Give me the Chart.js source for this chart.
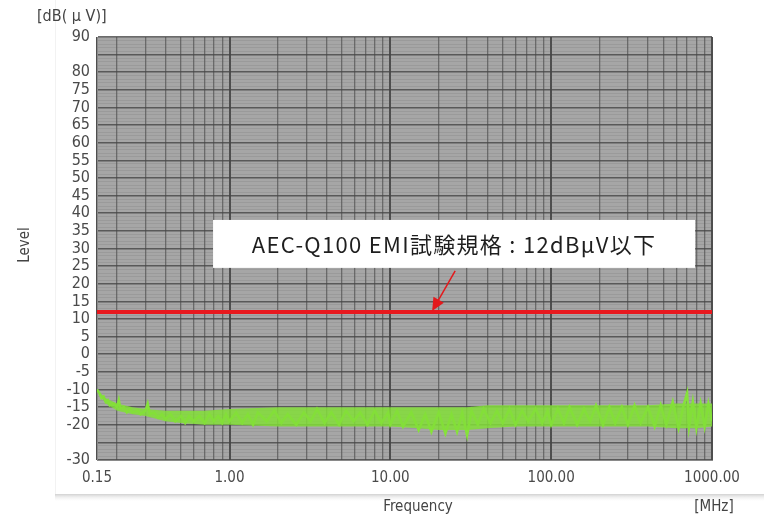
<!DOCTYPE html>
<html>
<head>
<meta charset="utf-8">
<script src="https://cdn.jsdelivr.net/npm/chart.js@4/dist/chart.umd.min.js"></script>
<style>
  html, body { margin: 0; padding: 0; background: #fff; }
  #wrap { width: 764px; height: 515px; position: relative; }
</style>
</head>
<body>
<div id="wrap"><canvas id="emi"></canvas></div>
<script>
const noiseFreq = [
  0.15, 0.155, 0.16, 0.165, 0.17, 0.175, 0.18, 0.19, 0.2, 0.205,
  0.21, 0.22, 0.23, 0.24, 0.25, 0.27, 0.28, 0.3, 0.31, 0.32,
  0.34, 0.36, 0.38, 0.4, 0.43, 0.46, 0.5, 0.53, 0.56, 0.6,
  0.65, 0.7, 0.75, 0.8, 0.85, 0.9, 0.95, 1.0, 1.1, 1.2,
  1.3, 1.4, 1.5, 1.7, 1.9, 2.1, 2.3, 2.6, 2.9, 3.2,
  3.5, 3.9, 4.3, 4.8, 5.3, 5.9, 6.5, 7.2, 8, 8.8,
  9.7, 10, 11, 12, 13.5, 15, 16.5, 18, 20, 22,
  24, 26, 28, 30, 32, 35, 38, 42, 46, 50,
  55, 60, 66, 72, 80, 88, 95, 100, 110, 120,
  130, 145, 160, 175, 190, 210, 230, 250, 275, 300,
  330, 360, 400, 440, 480, 520, 570, 620, 670, 700,
  720, 760, 800, 850, 900, 950, 1000
];
const noiseLevel = [
  -10, -11, -12.5, -12, -13.5, -13, -14.5, -14, -15, -13,
  -15.5, -15, -16.5, -15.5, -16.5, -16, -17, -16, -14, -17,
  -16.5, -18, -17, -18.5, -17, -19, -17.5, -19.5, -17.5, -19,
  -17.5, -19.5, -17, -19, -17.5, -19.5, -17, -19, -16.5, -19.5,
  -17, -20, -16.5, -19, -16, -19.5, -17, -20, -16.5, -19,
  -15.5, -19.5, -16.5, -20, -16, -19, -16.5, -20, -16, -19.5,
  -16.5, -20, -16, -20.5, -16.5, -21.5, -17, -22, -16.5, -22.5,
  -17, -22, -16.5, -23, -16, -20, -15.5, -19.5, -16, -19.5,
  -15.5, -20, -16, -19, -15.5, -19.5, -16, -20, -15.5, -19.5,
  -15, -20, -15.5, -19, -14.5, -20, -15, -19.5, -15, -20,
  -14.5, -19.5, -15, -20.5, -14.5, -20, -13.5, -21, -14, -11,
  -20.5, -13.5, -21, -14, -20.5, -14, -19
];

// outer edges of the green band
const bandFreq = [0.15, 0.17, 0.2, 0.25, 0.3, 0.4, 0.5, 0.7, 1, 2, 3, 5, 7, 10, 15, 20, 30, 40, 60, 100, 200, 400, 600, 800, 1000];
const bandUpper = [-10, -12.5, -14, -15, -15.5, -16, -16, -16, -15.5, -15, -15, -15, -15, -15, -15, -15, -15, -14.5, -14.5, -14.5, -14.5, -14.5, -14, -14, -14];
const bandLower = [-10.5, -14, -16, -17, -17.5, -19, -19.5, -20, -20, -20.5, -20.5, -20.5, -20.5, -20.5, -21, -21.5, -21.5, -21, -20.5, -20.5, -20.5, -20.5, -21, -21, -20.5];

// AEC-Q100 limit
const limitFreq = [0.15, 1000];
const limitLevel = [12, 12];

// axes
const xTickValues = [
  0.15, 0.2, 0.3, 0.4, 0.5, 0.6, 0.7, 0.8, 0.9,
  1, 2, 3, 4, 5, 6, 7, 8, 9,
  10, 20, 30, 40, 50, 60, 70, 80, 90,
  100, 200, 300, 400, 500, 600, 700, 800, 900, 1000
];
const xLabelValues = [0.15, 1, 10, 100, 1000];
const yMin = -30, yMax = 90;
const yHiddenLabels = [85, -25];

const annotationText = 'AEC-Q100 EMI試験規格 : 12dBµV以下';

const tickFont = "'Liberation Sans Narrow', 'DejaVu Sans Condensed', 'Liberation Sans', sans-serif";
const jpFont = "'Noto Sans CJK JP', 'Noto Sans', sans-serif";

const yTickValues = [];
for (let v = yMin; v <= yMax; v++) yTickValues.push(v);

const toPoints = (xs, ys) => xs.map((x, i) => ({ x: x, y: ys[i] }));

const decorPlugin = {
  id: 'decor',
  beforeDraw(chart) {
    const { ctx, chartArea: a } = chart;
    ctx.save();
    // faint photo frame
    ctx.fillStyle = '#f2f2f2';
    ctx.fillRect(55, 0, 1, 496);
    const g = ctx.createLinearGradient(0, 494, 0, 502);
    g.addColorStop(0, 'rgba(205,205,205,0.9)');
    g.addColorStop(1, 'rgba(255,255,255,0)');
    ctx.fillStyle = g;
    ctx.fillRect(55, 494, 709, 8);
    // plot background
    ctx.fillStyle = '#a6a6a6';
    ctx.fillRect(a.left, a.top, a.right - a.left, a.bottom - a.top);
    ctx.restore();
  },
  afterDatasetsDraw(chart) {
    const { ctx, scales } = chart;
    const xs = scales.x, ys = scales.y;
    ctx.save();
    // annotation box
    const bx1 = xs.getPixelForValue(0.79), bx2 = xs.getPixelForValue(785);
    const by1 = ys.getPixelForValue(38.1), by2 = ys.getPixelForValue(24.5);
    ctx.fillStyle = '#ffffff';
    ctx.fillRect(bx1, by1, bx2 - bx1, by2 - by1);
    ctx.fillStyle = '#1e1e1e';
    ctx.font = '22px ' + jpFont;
    ctx.letterSpacing = '1.3px';
    ctx.textAlign = 'center';
    ctx.textBaseline = 'middle';
    ctx.fillText(annotationText, (bx1 + bx2) / 2, (by1 + by2) / 2 + 1);
    ctx.letterSpacing = '0px';
    // arrow to the limit line
    const tx = xs.getPixelForValue(18.2), ty = ys.getPixelForValue(12) - 1;
    const sx = tx + 23, sy = by2 + 3;
    const ang = Math.atan2(ty - sy, tx - sx);
    ctx.strokeStyle = '#e3191c';
    ctx.fillStyle = '#e3191c';
    ctx.lineWidth = 1.5;
    ctx.beginPath();
    ctx.moveTo(sx, sy);
    ctx.lineTo(tx - 10 * Math.cos(ang), ty - 10 * Math.sin(ang));
    ctx.stroke();
    ctx.beginPath();
    ctx.moveTo(tx, ty);
    ctx.lineTo(tx - 13 * Math.cos(ang) + 6 * Math.sin(ang), ty - 13 * Math.sin(ang) - 6 * Math.cos(ang));
    ctx.lineTo(tx - 13 * Math.cos(ang) - 6 * Math.sin(ang), ty - 13 * Math.sin(ang) + 6 * Math.cos(ang));
    ctx.closePath();
    ctx.fill();
    ctx.restore();
  },
  afterDraw(chart) {
    const { ctx } = chart;
    ctx.save();
    ctx.fillStyle = '#444';
    ctx.textBaseline = 'middle';
    ctx.font = '16px ' + tickFont;
    ctx.textAlign = 'left';
    ctx.fillText('[dB( μ V)]', 37, 17);
    ctx.font = '15px ' + tickFont;
    ctx.textAlign = 'center';
    ctx.fillText('Frequency', 418, 507);
    ctx.fillText('[MHz]', 714, 507);
    ctx.translate(25, 245);
    ctx.rotate(-Math.PI / 2);
    ctx.fillText('Level', 0, 0);
    ctx.restore();
  }
};

new Chart(document.getElementById('emi'), {
  type: 'scatter',
  data: {
    datasets: [
      {
        label: 'Band upper',
        data: toPoints(bandFreq, bandUpper),
        showLine: true,
        borderColor: 'rgba(0,0,0,0)',
        borderWidth: 0,
        pointRadius: 0,
        fill: false
      },
      {
        label: 'Band lower',
        data: toPoints(bandFreq, bandLower),
        showLine: true,
        borderColor: 'rgba(0,0,0,0)',
        borderWidth: 0,
        pointRadius: 0,
        backgroundColor: 'rgba(130,222,56,0.85)',
        fill: '-1'
      },
      {
        label: 'Noise',
        data: toPoints(noiseFreq, noiseLevel),
        showLine: true,
        borderColor: '#86e23a',
        borderWidth: 2.5,
        pointRadius: 0,
        tension: 0
      },
      {
        label: 'Limit',
        data: toPoints(limitFreq, limitLevel),
        showLine: true,
        borderColor: '#e8191e',
        borderWidth: 4,
        pointRadius: 0
      }
    ]
  },
  options: {
    responsive: true,
    maintainAspectRatio: false,
    animation: false,
    layout: { padding: { top: 37, right: 52, left: 0, bottom: 0 } },
    plugins: { legend: { display: false }, tooltip: { enabled: false } },
    scales: {
      x: {
        type: 'logarithmic',
        min: 0.15,
        max: 1000,
        afterBuildTicks: s => { s.ticks = xTickValues.map(v => ({ value: v })); },
        afterFit: s => { s.height = 55; },
        ticks: {
          autoSkip: false,
          maxRotation: 0,
          padding: 9,
          color: '#4a4a4a',
          font: { family: tickFont, size: 15 },
          callback: v => xLabelValues.includes(v) ? v.toFixed(2) : ''
        },
        grid: {
          drawTicks: false,
          color: c => xLabelValues.includes(c.tick && c.tick.value) ? '#4e4e4e' : '#6a6a6a',
          lineWidth: c => xLabelValues.includes(c.tick && c.tick.value) ? 2 : 1.3
        },
        border: { display: true, color: '#8a8a8a', width: 1 }
      },
      y: {
        type: 'linear',
        min: yMin,
        max: yMax,
        afterBuildTicks: s => { s.ticks = yTickValues.map(v => ({ value: v })); },
        afterFit: s => { s.width = 97; },
        ticks: {
          autoSkip: false,
          padding: 7,
          color: '#4a4a4a',
          font: { family: tickFont, size: 16 },
          callback: v => (v % 5 === 0 && !yHiddenLabels.includes(v)) ? v : ''
        },
        grid: {
          drawTicks: false,
          color: c => (c.tick && c.tick.value % 5 === 0) ? 'rgba(70,70,70,0.8)' : 'rgba(90,90,90,0.15)',
          lineWidth: c => (c.tick && c.tick.value % 5 === 0) ? 1.6 : 1
        },
        border: { display: true, color: '#8a8a8a', width: 1 }
      }
    }
  },
  plugins: [decorPlugin]
});
</script>
</body>
</html>
